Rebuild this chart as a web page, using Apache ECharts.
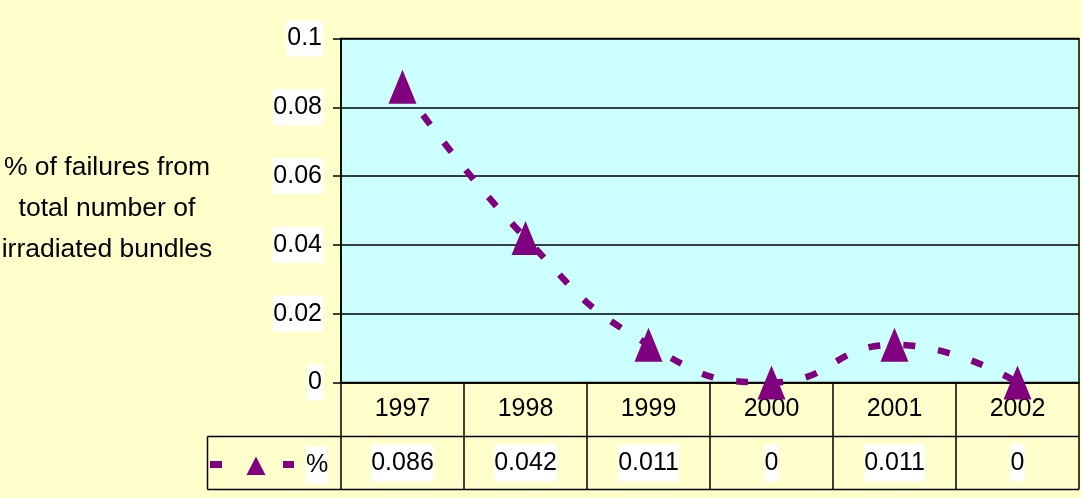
<!DOCTYPE html>
<html><head><meta charset="utf-8">
<script src="https://cdn.jsdelivr.net/npm/echarts@6/dist/echarts.min.js"></script>
<style>html,body{margin:0;padding:0;background:#FFFFCC}#c{width:1082px;height:498px}</style>
</head><body><div id="c"></div>
<script>
const years = ['1997', '1998', '1999', '2000', '2001', '2002'];
const failurePct = [0.086, 0.042, 0.011, 0, 0.011, 0];
const valueLabels = ['0.086', '0.042', '0.011', '0', '0.011', '0'];
const yTickLabels = ['0', '0.02', '0.04', '0.06', '0.08', '0.1'];
const yTitleLines = ['% of failures from', 'total number of', 'irradiated bundles'];
const seriesName = '%';

const FONT = "'Liberation Sans', Arial, sans-serif";
const PURPLE = '#800080';
const chart = echarts.init(document.getElementById('c'), null, {renderer: 'canvas'});

const L = 341, R = 1079, TOP = 38.5, AX = 382.5, ROW2 = 436.5, BOT = 489.5, LEG = 207.5;

chart.setOption({
  animation: false,
  backgroundColor: '#FFFFCC',
  grid: {left: L, right: 1082 - R, top: TOP, bottom: 498 - AX, show: true,
    backgroundColor: '#CCFFFF', borderColor: '#000', borderWidth: 1.5},
  xAxis: [{
    type: 'category', data: years, boundaryGap: true,
    axisLine: {show: true, lineStyle: {color: '#000', width: 1.5}},
    axisTick: {show: true, length: BOT - AX, lineStyle: {color: '#000', width: 1.5}},
    axisLabel: {margin: 14.5, fontFamily: FONT, fontSize: 25, lineHeight: 25, color: '#000'},
    splitLine: {show: false}
  }, {
    type: 'category', data: valueLabels, boundaryGap: true, position: 'bottom', offset: ROW2 - AX,
    axisLine: {show: false}, axisTick: {show: false},
    axisLabel: {margin: 8, fontFamily: FONT, fontSize: 25, lineHeight: 25, color: '#000',
      backgroundColor: '#fff', padding: [6, 0]},
    splitLine: {show: false}
  }],
  yAxis: {
    type: 'value', min: 0, max: 0.1, interval: 0.02,
    axisLine: {show: true, lineStyle: {color: '#000', width: 1.5}},
    axisTick: {show: true, length: 8, lineStyle: {color: '#000', width: 1.5}},
    splitLine: {show: true, lineStyle: {color: '#000', width: 1.5}},
    axisLabel: {margin: 18, fontFamily: FONT, fontSize: 25, lineHeight: 25, color: '#000',
      backgroundColor: '#fff', padding: [5.5, 1],
      formatter: v => yTickLabels[Math.round(v / 0.02)]}
  },
  series: [{
    name: seriesName, type: 'line', data: failurePct, smooth: 0.5, clip: false,
    symbol: 'triangle', symbolSize: [28, 34],
    itemStyle: {color: PURPLE},
    lineStyle: {color: PURPLE, width: 6.5, type: [12, 23]},
    z: 5
  }],
  graphic: [
    {type: 'line', shape: {x1: LEG, y1: ROW2, x2: R, y2: ROW2}, style: {stroke: '#000', lineWidth: 1.5}},
    {type: 'line', shape: {x1: LEG, y1: BOT, x2: R, y2: BOT}, style: {stroke: '#000', lineWidth: 1.5}},
    {type: 'line', shape: {x1: LEG, y1: ROW2, x2: LEG, y2: BOT}, style: {stroke: '#000', lineWidth: 1.5}},
    {type: 'rect', shape: {x: 210, y: 461, width: 12, height: 7}, style: {fill: PURPLE}},
    {type: 'rect', shape: {x: 283, y: 461, width: 11, height: 7}, style: {fill: PURPLE}},
    {type: 'polygon', shape: {points: [[256, 456.5], [265.5, 475], [246.5, 475]]}, style: {fill: PURPLE}},
    {type: 'text', x: 317, y: 465, style: {text: seriesName, font: '25px ' + FONT, fill: '#000',
      align: 'center', verticalAlign: 'middle', backgroundColor: '#fff', padding: [6, 0], lineHeight: 25}},
    {type: 'text', x: 107, y: 209, style: {text: yTitleLines.join('\n'), font: '26.5px ' + FONT, fill: '#000',
      align: 'center', verticalAlign: 'middle', lineHeight: 41}}
  ]
});
</script></body></html>
